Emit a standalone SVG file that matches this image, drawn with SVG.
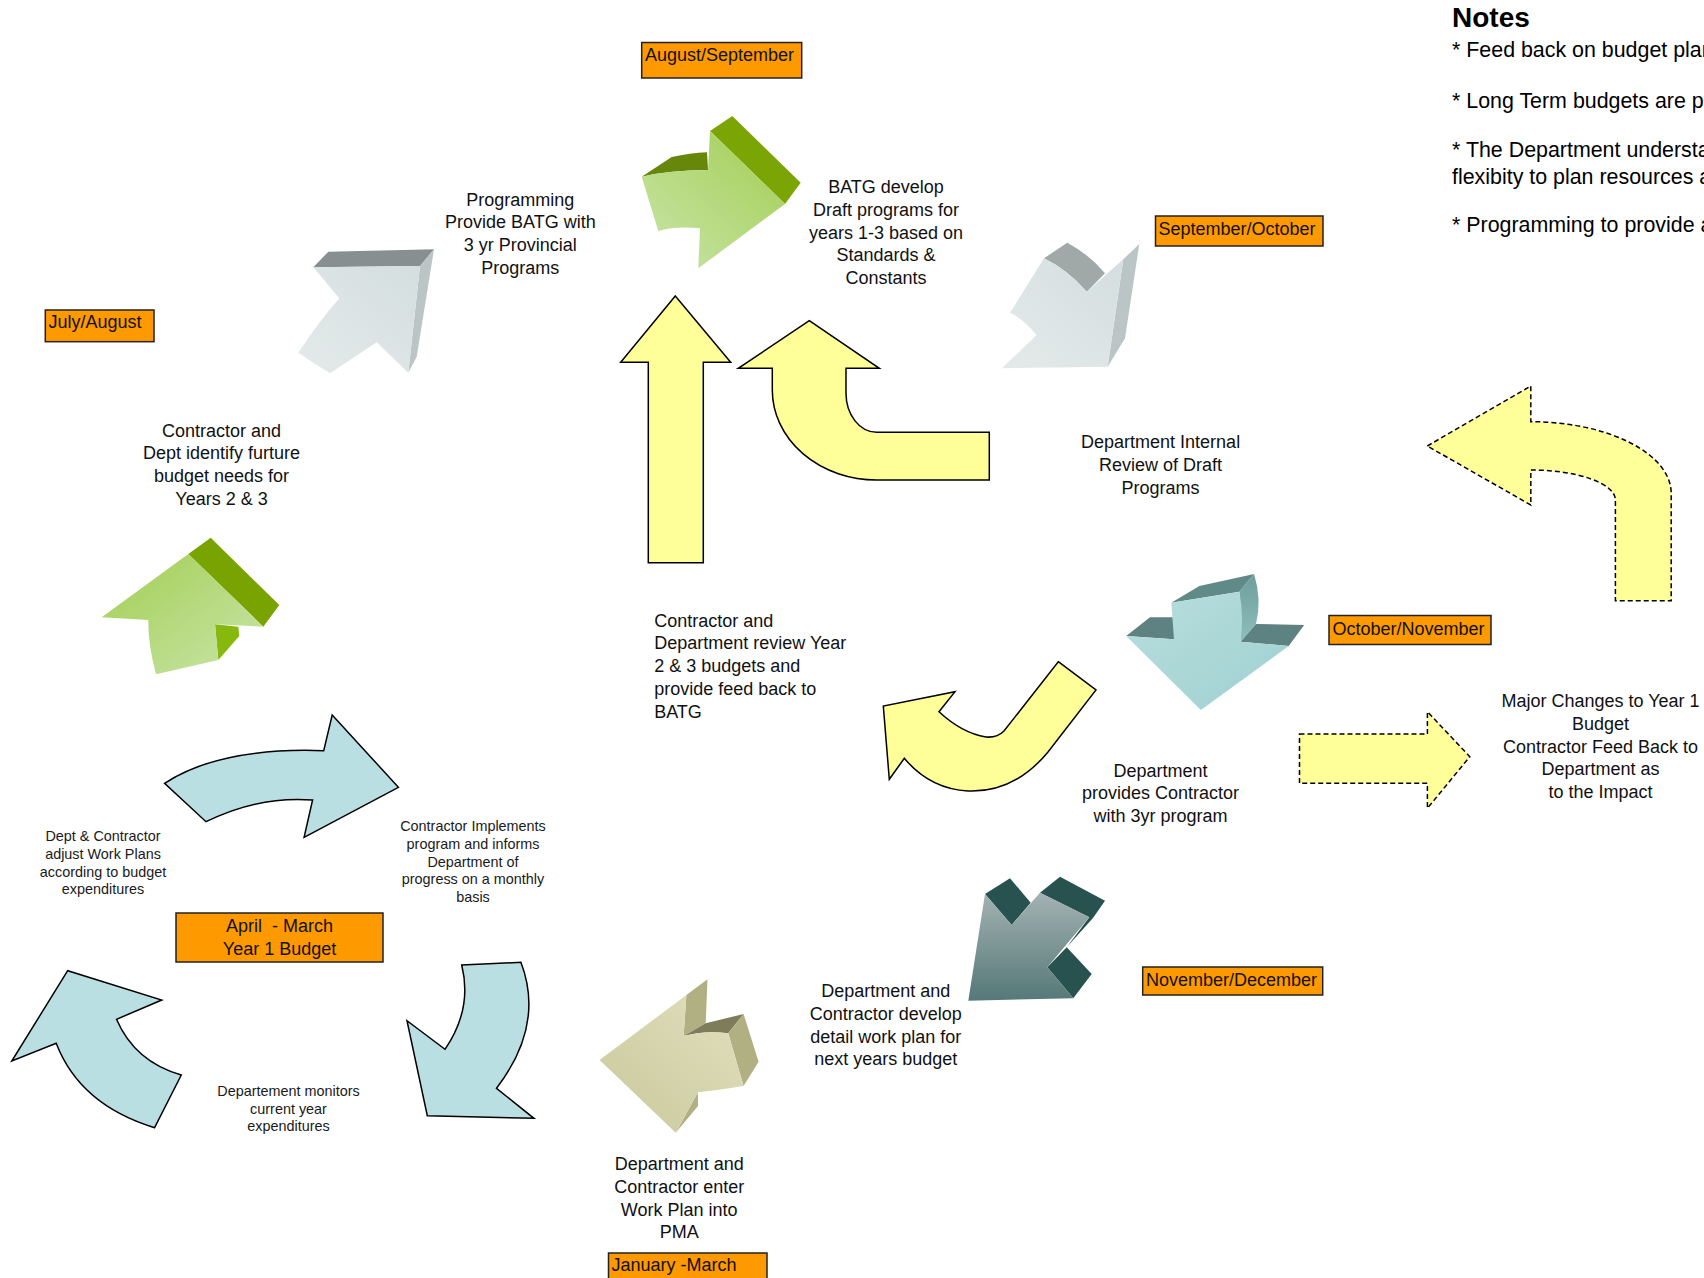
<svg xmlns="http://www.w3.org/2000/svg" width="1704" height="1278" viewBox="0 0 1704 1278">
<style>
.t{font-family:'Liberation Sans',Arial,sans-serif;font-size:18px;fill:#111}
.tc{text-anchor:middle}
.s{font-family:'Liberation Sans',Arial,sans-serif;font-size:14.4px;fill:#1a1a1a;text-anchor:middle}
.box{fill:#FF9900;stroke:#222;stroke-width:1.5}
.yel{fill:#FFFF99;stroke:#000;stroke-width:1.5;stroke-linejoin:miter}
.dash{stroke-dasharray:5 3}
.blu{fill:#BADFE3;stroke:#000;stroke-width:1.5}
.notes{font-family:'Liberation Sans',Arial,sans-serif;font-size:21.4px;fill:#000}
</style>
<defs>
<linearGradient id="gF" x1="0" y1="1" x2="1" y2="0"><stop offset="0" stop-color="#C9E5AA"/><stop offset="1" stop-color="#A2CE52"/></linearGradient>
<linearGradient id="gF2" x1="1" y1="1" x2="0" y2="0"><stop offset="0" stop-color="#C9E5AA"/><stop offset="1" stop-color="#A2CE52"/></linearGradient>
<linearGradient id="gyF" x1="0" y1="1" x2="1" y2="0"><stop offset="0" stop-color="#E4EAEA"/><stop offset="1" stop-color="#D4DEDF"/></linearGradient>
<linearGradient id="tlF" x1="0" y1="0" x2="1" y2="1"><stop offset="0" stop-color="#B9DEDE"/><stop offset="1" stop-color="#9FD0D0"/></linearGradient>
<linearGradient id="tlS" x1="0" y1="0" x2="0" y2="1"><stop offset="0" stop-color="#6E9E9C"/><stop offset="1" stop-color="#8DBFBD"/></linearGradient>
<linearGradient id="dtF" x1="0" y1="0" x2="0" y2="1"><stop offset="0" stop-color="#A4B2B2"/><stop offset="1" stop-color="#557878"/></linearGradient>
<linearGradient id="khF" x1="1" y1="0" x2="0" y2="1"><stop offset="0" stop-color="#E0E0BE"/><stop offset="1" stop-color="#C9C89B"/></linearGradient>
</defs>

<g id="connectors">
  <!-- yellow block arrows -->
  <path class="yel" d="M675.3,296 L730.7,362.3 L703.3,362.3 L703.3,562.7 L648.3,562.7 L648.3,362.3 L620.7,362.3 Z"/>
  <path class="yel" d="M809.3,320.7 L879.3,368.3 L846,368.3 L846,393.3 A30.7 39 0 0 0 876.7,432.3 L989.3,432.3 L989.3,480 L876.7,480 A104.3 90 0 0 1 772.3,390 L772.3,368.3 L738.3,368.3 Z"/>
  <path class="yel" d="M1058.3,661.7 L1096,690 L1048,752 Q1014,793 968,791 Q930,789 904.3,758.3 L889.3,779.3 L883.3,706 L955,691.7 L939,711.7 Q962,733 986,737 Q997,738 1004,731 Z"/>
  <path class="yel dash" d="M1427.3,446 L1530.8,386 L1530.8,421.7 A140.4 71.6 0 0 1 1671.2,493.3 L1671.2,600.7 L1615.4,600.7 L1615.4,500 A84.6 30 0 0 0 1530.8,470 L1530.8,505 Z"/>
  <path class="yel dash" d="M1299.5,734 L1427.4,734 L1427.4,711.7 L1469.8,756.7 L1427.4,808.3 L1427.4,783.3 L1299.5,783.3 Z"/>
  <!-- blue circular arrows -->
  <path class="blu" d="M164.6,783.3 Q220,747 323.7,750.7 L332.2,715 L398.4,787.3 L304.1,837.3 L312.6,800 Q258.7,795.8 206,821.7 Z"/>
  <path class="blu" d="M461.7,965 L520.9,962.3 Q545,1025 496.5,1088.3 L533.9,1118.3 L427.3,1115.7 L407,1020.7 L445,1049.3 Q472.7,1009 461.7,965 Z"/>
  <path class="blu" d="M181.3,1075 L154.6,1127.7 Q80,1105 56.2,1043.3 L11.8,1061 L67.7,970.7 L161.7,1000 L116.5,1019.3 Q135,1062 181.3,1075 Z"/>
  <!-- 3D arrow: green top -->
  <path d="M641.7,176.7 L671.7,157 Q690,153 707,152.3 L708,170 Q670,170 641.7,176.7 Z" fill="#66870A"/>
  <path d="M710,131 L732.3,116 L800.7,182.7 L785,204 Z" fill="#7BA405"/>
  <path d="M641.7,176.7 Q670,170 708,170 L710,131 L785,204 L698.3,268.3 L700,228.3 Q675,226 658.3,231 Z" fill="url(#gF)"/>
  <!-- 3D arrow: green left -->
  <path d="M188.3,554 L210.7,537.7 L279.3,605 L263.3,626.7 Z" fill="#78A300"/>
  <path d="M215,624.3 L238.3,626.7 L239.3,636 L218.3,660 Z" fill="#86B80E"/>
  <path d="M101.7,617.3 L188.3,554 L263.3,626.7 L215,624.3 L218.3,660 L156,674.3 Q148,645 148.3,620 Z" fill="url(#gF2)"/>
  <!-- 3D arrow: gray up-right -->
  <path d="M313.3,267.3 L328.3,251.7 L434,249.3 L420,266 Z" fill="#878F90"/>
  <path d="M420,266 L434,249.3 L416.7,356.7 L408.3,372.7 Z" fill="#BCC5C6"/>
  <path d="M313.3,267.3 L420,266 L408.3,372.7 L376.7,342.3 L330,373.3 Q312,362 298.3,352.7 Q320,320 339.3,298.3 Z" fill="url(#gyF)"/>
  <!-- 3D arrow: gray down-right -->
  <path d="M1044,258.3 L1067.3,242.7 Q1090,255 1105,273.3 L1086.7,291.7 Q1068,270 1044,258.3 Z" fill="#A0A8A8"/>
  <path d="M1123.3,259.3 L1139.3,244 L1125,338.3 L1107.7,366.7 Z" fill="#BCC5C6"/>
  <path d="M1044,258.3 Q1068,270 1086.7,291.7 L1123.3,259.3 L1107.7,366.7 L1001.7,368.3 L1036.7,335 Q1022,318 1010,312.7 Z" fill="url(#gyF)"/>
  <!-- 3D arrow: teal down -->
  <path d="M1171.3,602.7 L1199.4,586 L1254.1,574 L1239.4,591.7 Z" fill="#5F8A88"/>
  <path d="M1239.4,591.7 L1254.1,574 Q1262,600 1256,624 L1240.6,641.7 Z" fill="url(#tlS)"/>
  <path d="M1240.6,641.7 L1256,624 L1304.2,625 L1288.7,646 Z" fill="#5E8282"/>
  <path d="M1126.2,636 L1150,617.3 L1174,617.3 L1174,639.3 Z" fill="#5E8282"/>
  <path d="M1171.3,602.7 L1239.4,591.7 Q1244,615 1240.6,641.7 L1288.7,646 L1200.9,710 L1126.2,636 L1174,639.3 Z" fill="url(#tlF)"/>
  <!-- 3D arrow: dark teal down-left -->
  <path d="M985,894 L1010,878.3 L1030.7,902.7 L1011.7,925 Z" fill="#27524F"/>
  <path d="M1040,892.7 L1060,876.7 L1105,900.7 L1093,918 L1066.7,947.3 L1089.3,917.3 Z" fill="#27524F"/>
  <path d="M1066.7,947.3 L1091.7,974 L1073.3,998.3 L1047.3,967.3 Z" fill="#27524F"/>
  <path d="M985,894 L1011.7,925 L1040,892.7 L1089.3,917.3 L1047.3,967.3 L1073.3,998.3 L968.3,1000.7 Z" fill="url(#dtF)"/>
  <!-- 3D arrow: khaki left -->
  <path d="M686.4,995 L707.5,979.3 L705.7,1023.3 L683.6,1036 Z" fill="#B1B083"/>
  <path d="M683.6,1036 L705.7,1023.3 L743.6,1014 L728.2,1033.3 Q705,1030 683.6,1036 Z" fill="#7E7D5B"/>
  <path d="M728.2,1033.3 L743.6,1014 L758.6,1061.7 L743.6,1086 Z" fill="#B1B083"/>
  <path d="M697.9,1092.3 L698,1106 L675.7,1132.7 Z" fill="#B1B083"/>
  <path d="M599.6,1060 L686.4,995 L683.6,1036 Q705,1030 728.2,1033.3 L743.6,1086 Q720,1090 697.9,1092.3 L675.7,1132.7 Z" fill="url(#khF)"/>
</g>

<g id="notes">
  <text x="1452" y="27" font-family="Liberation Sans,Arial,sans-serif" font-size="28" font-weight="bold" fill="#000">Notes</text>
  <text class="notes" x="1452" y="57">* Feed back on budget plan</text>
  <text class="notes" x="1452" y="107.5">* Long Term budgets are p</text>
  <text class="notes" x="1452" y="157">* The Department understa</text>
  <text class="notes" x="1452" y="183.5">flexibity to plan resources a</text>
  <text class="notes" x="1452" y="232">* Programming to provide a</text>
</g>

<g id="m-aug-sep"><rect class="box" x="641.7" y="42.5" width="160" height="35.5"/><text class="t" x="645" y="61">August/September</text></g>
<g id="m-jul-aug"><rect class="box" x="45.3" y="310" width="108.7" height="31.7"/><text class="t" x="48.5" y="328.3">July/August</text></g>
<g id="m-sep-oct"><rect class="box" x="1155.5" y="216" width="167.5" height="30"/><text class="t" x="1158.5" y="235">September/October</text></g>
<g id="m-oct-nov"><rect class="box" x="1329" y="615.5" width="162" height="29"/><text class="t" x="1332.5" y="634.5">October/November</text></g>
<g id="m-nov-dec"><rect class="box" x="1142.7" y="967" width="180" height="28"/><text class="t" x="1146" y="986">November/December</text></g>
<g id="m-jan-mar"><rect class="box" x="608.5" y="1253" width="158.5" height="30"/><text class="t" x="611.5" y="1271">January -March</text></g>
<g id="m-apr-mar"><rect class="box" x="176" y="913" width="207" height="49"/>
  <text class="t tc" x="279.5" y="932" font-size="19.6" xml:space="preserve">April  - March</text>
  <text class="t tc" x="279.5" y="955" font-size="19.6">Year 1 Budget</text></g>

<g id="n-programming"><text class="t tc" x="520.3" y="205.5"><tspan x="520.3">Programming</tspan><tspan x="520.3" dy="22.7">Provide BATG with</tspan><tspan x="520.3" dy="22.7">3 yr Provincial</tspan><tspan x="520.3" dy="22.7">Programs</tspan></text></g>
<g id="n-batg"><text class="t tc" x="886" y="193"><tspan x="886">BATG develop</tspan><tspan x="886" dy="22.8">Draft programs for</tspan><tspan x="886" dy="22.8">years 1-3 based on</tspan><tspan x="886" dy="22.8">Standards &amp;</tspan><tspan x="886" dy="22.8">Constants</tspan></text></g>
<g id="n-review"><text class="t tc" x="1160.6" y="448"><tspan x="1160.6">Department Internal</tspan><tspan x="1160.6" dy="22.8">Review of Draft</tspan><tspan x="1160.6" dy="22.8">Programs</tspan></text></g>
<g id="n-identify"><text class="t tc" x="221.5" y="436.5"><tspan x="221.5">Contractor and</tspan><tspan x="221.5" dy="22.8">Dept identify furture</tspan><tspan x="221.5" dy="22.8">budget needs for</tspan><tspan x="221.5" dy="22.8">Years 2 &amp; 3</tspan></text></g>
<g id="n-contractor-review"><text class="t" x="654.2" y="626.5"><tspan x="654.2">Contractor and</tspan><tspan x="654.2" dy="22.8">Department review Year</tspan><tspan x="654.2" dy="22.8">2 &amp; 3 budgets and</tspan><tspan x="654.2" dy="22.8">provide feed back to</tspan><tspan x="654.2" dy="22.8">BATG</tspan></text></g>
<g id="n-provides"><text class="t tc" x="1160.6" y="776.5"><tspan x="1160.6">Department</tspan><tspan x="1160.6" dy="22.8">provides Contractor</tspan><tspan x="1160.6" dy="22.8">with 3yr program</tspan></text></g>
<g id="n-major"><text class="t tc" x="1600.5" y="707"><tspan x="1600.5">Major Changes to Year 1</tspan><tspan x="1600.5" dy="22.8">Budget</tspan><tspan x="1600.5" dy="22.8">Contractor Feed Back to</tspan><tspan x="1600.5" dy="22.8">Department as</tspan><tspan x="1600.5" dy="22.8">to the Impact</tspan></text></g>
<g id="n-workplan"><text class="t tc" x="885.7" y="997"><tspan x="885.7">Department and</tspan><tspan x="885.7" dy="22.8">Contractor develop</tspan><tspan x="885.7" dy="22.8">detail work plan for</tspan><tspan x="885.7" dy="22.8">next years budget</tspan></text></g>
<g id="n-pma"><text class="t tc" x="679.2" y="1170"><tspan x="679.2">Department and</tspan><tspan x="679.2" dy="22.8">Contractor enter</tspan><tspan x="679.2" dy="22.8">Work Plan into</tspan><tspan x="679.2" dy="22.8">PMA</tspan></text></g>
<g id="n-adjust"><text class="s" x="103" y="841"><tspan x="103">Dept &amp; Contractor</tspan><tspan x="103" dy="17.8">adjust Work Plans</tspan><tspan x="103" dy="17.8">according to budget</tspan><tspan x="103" dy="17.8">expenditures</tspan></text></g>
<g id="n-implements"><text class="s" x="473" y="830.7"><tspan x="473">Contractor Implements</tspan><tspan x="473" dy="17.9">program and informs</tspan><tspan x="473" dy="17.9">Department of</tspan><tspan x="473" dy="17.9">progress on a monthly</tspan><tspan x="473" dy="17.9">basis</tspan></text></g>
<g id="n-monitors"><text class="s" x="288.5" y="1095.7"><tspan x="288.5">Departement monitors</tspan><tspan x="288.5" dy="17.8">current year</tspan><tspan x="288.5" dy="17.8">expenditures</tspan></text></g>
</svg>
